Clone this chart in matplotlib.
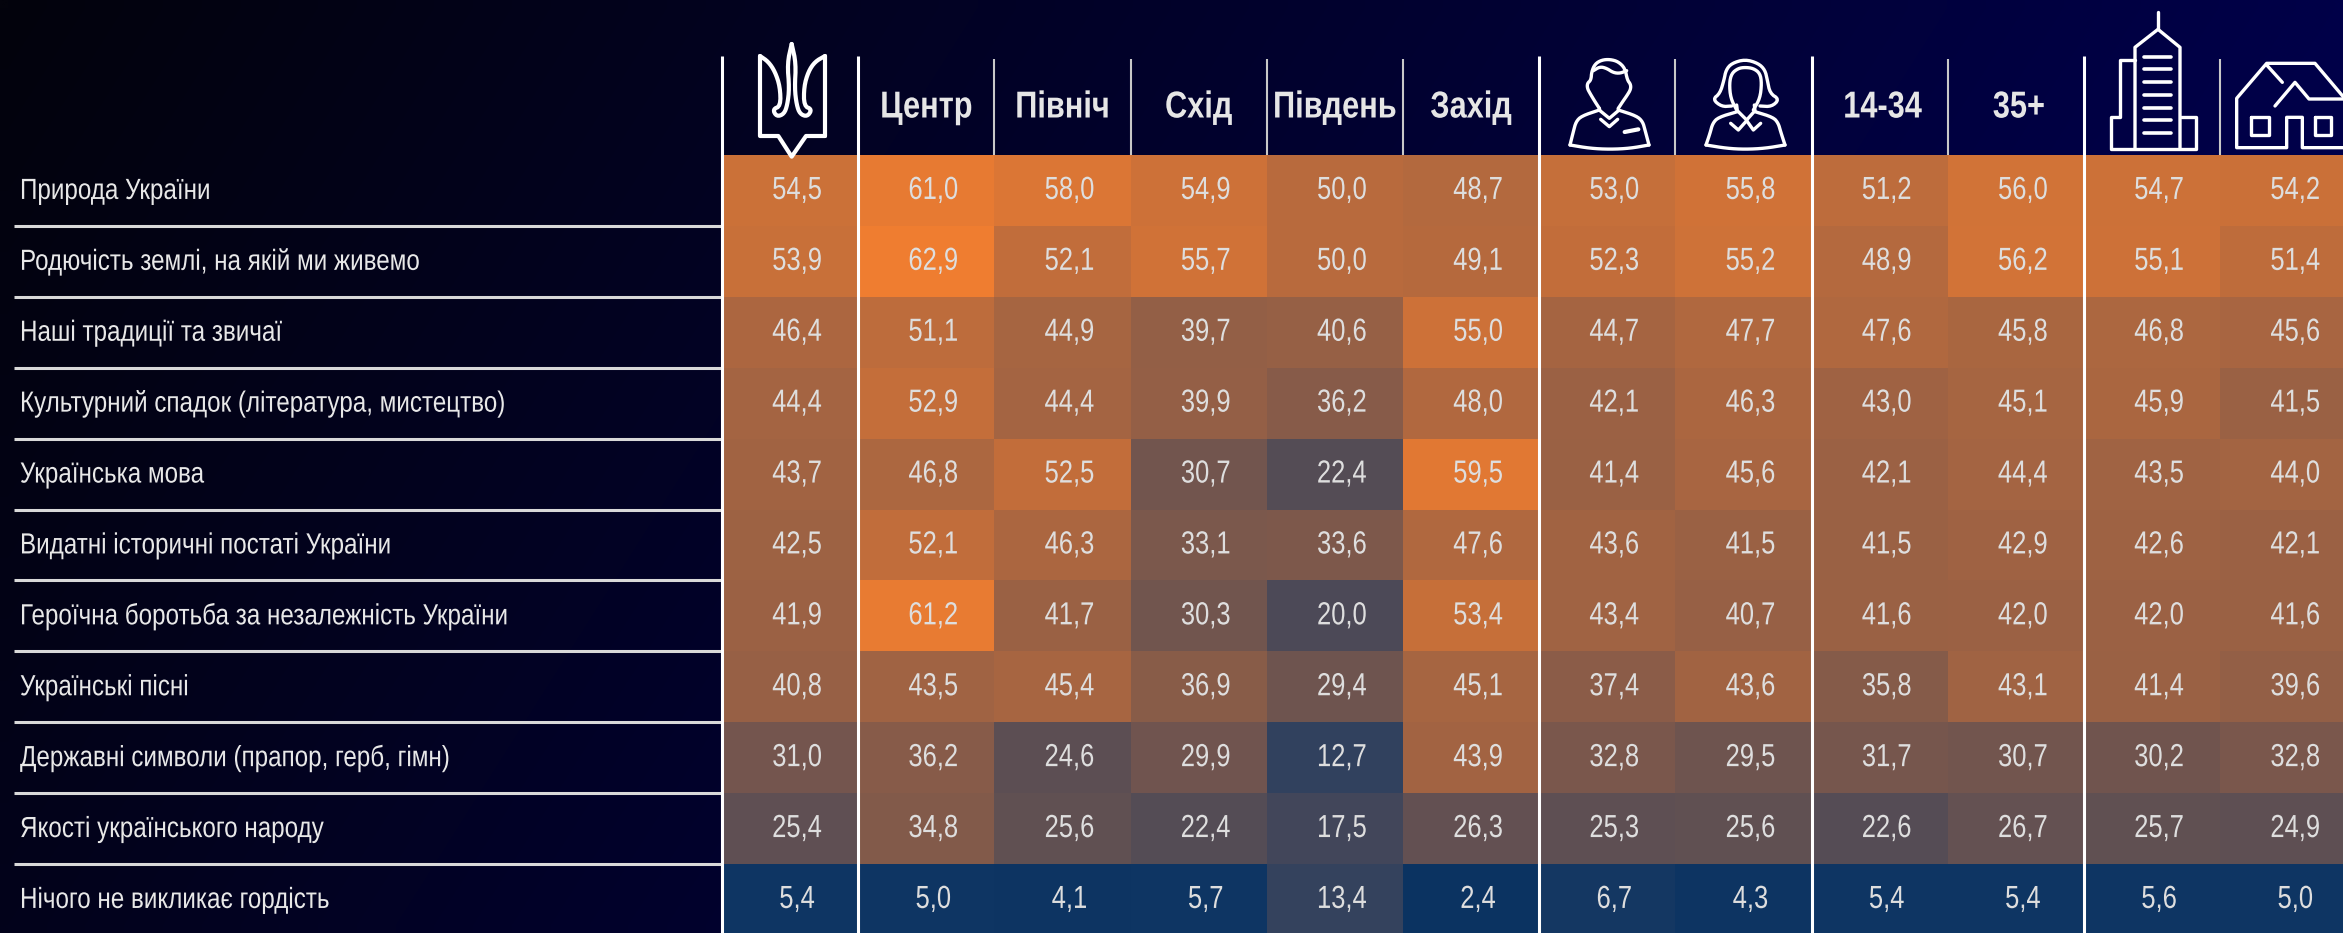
import matplotlib
matplotlib.use("Agg")
import numpy as np
import matplotlib.pyplot as plt
from matplotlib.colors import LinearSegmentedColormap, Normalize
from matplotlib.patheffects import AbstractPathEffect
from matplotlib.transforms import Affine2D

rows = ["Природа України", "Родючість землі, на якій ми живемо", "Наші традиції та звичаї",
        "Культурний спадок (література, мистецтво)", "Українська мова",
        "Видатні історичні постаті України", "Героїчна боротьба за незалежність України",
        "Українські пісні", "Державні символи (прапор, герб, гімн)",
        "Якості українського народу", "Нічого не викликає гордість"]

col_ukraine = [54.5, 53.9, 46.4, 44.4, 43.7, 42.5, 41.9, 40.8, 31.0, 25.4, 5.4]
col_center = [61.0, 62.9, 51.1, 52.9, 46.8, 52.1, 61.2, 43.5, 36.2, 34.8, 5.0]
col_north = [58.0, 52.1, 44.9, 44.4, 52.5, 46.3, 41.7, 45.4, 24.6, 25.6, 4.1]
col_east = [54.9, 55.7, 39.7, 39.9, 30.7, 33.1, 30.3, 36.9, 29.9, 22.4, 5.7]
col_south = [50.0, 50.0, 40.6, 36.2, 22.4, 33.6, 20.0, 29.4, 12.7, 17.5, 13.4]
col_west = [48.7, 49.1, 55.0, 48.0, 59.5, 47.6, 53.4, 45.1, 43.9, 26.3, 2.4]
col_men = [53.0, 52.3, 44.7, 42.1, 41.4, 43.6, 43.4, 37.4, 32.8, 25.3, 6.7]
col_women = [55.8, 55.2, 47.7, 46.3, 45.6, 41.5, 40.7, 43.6, 29.5, 25.6, 4.3]
col_young = [51.2, 48.9, 47.6, 43.0, 42.1, 41.5, 41.6, 35.8, 31.7, 22.6, 5.4]
col_old = [56.0, 56.2, 45.8, 45.1, 44.4, 42.9, 42.0, 43.1, 30.7, 26.7, 5.4]
col_city = [54.7, 55.1, 46.8, 45.9, 43.5, 42.6, 42.0, 41.4, 30.2, 25.7, 5.6]
col_village = [54.2, 51.4, 45.6, 41.5, 44.0, 42.1, 41.6, 39.6, 32.8, 24.9, 5.0]

values = np.array([col_ukraine, col_center, col_north, col_east, col_south, col_west,
                   col_men, col_women, col_young, col_old, col_city, col_village]).T
headers = ["", "Центр", "Північ", "Схід", "Південь", "Захід", "", "", "14-34", "35+", "", ""]


# no narrow font installed, so squeeze the glyphs sideways around an anchor
class Squeeze(AbstractPathEffect):
    def __init__(self, sx, cx):
        super().__init__()
        self.extra = Affine2D().translate(-cx, 0).scale(sx, 1).translate(cx, 0)

    def draw_path(self, renderer, gc, tpath, affine, rgbFace=None):
        renderer.draw_path(gc, tpath, affine + self.extra, rgbFace)


W, H = 2343, 933
plt.rcParams['font.family'] = ['Liberation Sans', 'DejaVu Sans']
fig = plt.figure(figsize=(W / 100, H / 100), dpi=100)
ax = fig.add_axes([0, 0, 1, 1])
ax.set_xlim(0, W)
ax.set_ylim(H, 0)
ax.axis('off')

# background, almost black top left, navy to the right
yy, xx = np.mgrid[0:1:60j, 0:1:150j]
t = xx * 0.8 + yy * 0.2
bg = np.dstack([3 * (1 - t), 3 * (1 - t), 12 + 75 * t]) / 255
ax.imshow(bg, extent=[0, W, H, 0], aspect='auto', zorder=0, interpolation='bilinear')

cmap = LinearSegmentedColormap.from_list("heat", [(0, "#0B3361"), (0.05, "#0E3563"), (0.15, "#2D405F"),
                                                  (0.8, "#BB6B3C"), (1, "#EF7D30")])
norm = Normalize(2.4, 62.9)
x0, cw = 722.0, 136.2
y0, rh = 155.0, 70.9

ax.pcolormesh(x0 + cw * np.arange(13), y0 + rh * np.arange(12), values, cmap=cmap, norm=norm, zorder=1)

for r, row in enumerate(values):
    ym = y0 + rh * (r + 0.5)
    ax.text(20, ym + 0.5, rows[r], color="#E8E8E8", fontsize=21, va='center', ha='left', zorder=3,
            path_effects=[Squeeze(0.83, 20)])
    for c, v in enumerate(row):
        xm = x0 + cw * (c + 0.5) + 7
        ax.text(xm, ym + 0.5, f"{v:.1f}".replace(".", ","), color="#DEDEDE", fontsize=23,
                va='center', ha='center', zorder=3, path_effects=[Squeeze(0.8, xm)])
    if r > 0:
        ax.plot([14, x0], [y0 + rh * r] * 2, color="#D9D9D9", lw=2.2, zorder=2, solid_capstyle='butt')

for c, h in enumerate(headers):
    xm = x0 + cw * (c + 0.5)
    if h in ("14-34", "35+"):
        xm += 3
    ax.text(xm, 107.5, h, color="#E6E6E6", fontsize=27, fontweight='bold', va='center', ha='center',
            zorder=3, path_effects=[Squeeze(0.82, xm)])

for c in range(12):
    major = c in (0, 1, 6, 8, 10)
    ax.plot([x0 + cw * c] * 2, [56 if major else 59, H if major else y0],
            color="white" if major else "#C8C8C8", lw=2.2 if major else 1.5, zorder=4, solid_capstyle='butt')


def smooth(pts, n=2):
    pts = np.array(pts, float)
    for _ in range(n):
        q = 0.75 * pts[:-1] + 0.25 * pts[1:]
        r = 0.25 * pts[:-1] + 0.75 * pts[1:]
        mid = np.empty((len(q) * 2, 2))
        mid[0::2] = q
        mid[1::2] = r
        pts = np.vstack([pts[0], mid, pts[-1]])
    return pts


def icon(pts, ox, oy, lw=2.4, curved=False):
    pts = smooth(pts) if curved else np.array(pts, float)
    ax.plot(ox + pts[:, 0] / 3, oy + pts[:, 1] / 3, color="white", lw=lw, zorder=5,
            solid_capstyle='round', solid_joinstyle='round')


# trident
icon([(285, 318), (228, 318), (185, 380), (145, 318), (90, 318), (90, 78)], 730, 30, lw=3)
icon([(285, 318), (285, 78)], 730, 30, lw=3)
icon([(90, 78), (115, 95), (135, 125), (150, 170), (152, 228), (128, 238), (140, 260), (162, 252),
      (172, 225), (178, 175), (172, 100), (185, 42)], 730, 30, lw=3, curved=True)
icon([(285, 78), (255, 95), (235, 125), (222, 170), (222, 228), (246, 238), (232, 260), (210, 252),
      (200, 225), (194, 175), (198, 100), (185, 42)], 730, 30, lw=3, curved=True)

# man
man = [[(178, 205), (165, 185), (150, 160), (142, 145), (142, 130), (153, 120), (155, 95), (165, 72), (185, 60),
        (210, 58), (235, 65), (255, 85), (262, 120), (272, 133), (272, 148), (262, 165), (248, 185), (235, 205)],
       [(160, 92), (180, 80), (200, 85), (220, 98), (240, 100), (260, 92)],
       [(90, 315), (150, 325), (210, 328), (270, 325), (327, 315)],
       [(178, 210), (125, 228), (108, 245), (100, 275), (90, 315)],
       [(327, 315), (315, 270), (308, 245), (290, 228), (235, 210)]]
for part in man:
    icon(part, 1540, 40, curved=True)
icon([(178, 205), (180, 212), (208, 235), (235, 212), (235, 205)], 1540, 40)
icon([(182, 238), (208, 260), (233, 238)], 1540, 40)
icon([(254, 276), (295, 268)], 1540, 40, lw=3)

# woman
woman = [[(575, 198), (545, 200), (518, 178), (540, 160), (552, 120), (558, 90), (575, 70), (615, 58), (655, 70),
          (675, 90), (682, 120), (690, 160), (718, 178), (695, 200), (660, 198)],
         [(590, 210), (572, 175), (568, 130), (575, 100), (595, 85), (615, 82), (640, 85), (660, 100), (665, 130),
          (660, 175), (640, 210)],
         [(592, 215), (535, 232), (518, 250), (510, 280), (498, 315)],
         [(498, 315), (560, 325), (615, 328), (675, 325), (735, 315)],
         [(735, 315), (722, 275), (715, 250), (700, 232), (645, 215)]]
for part in woman:
    icon(part, 1540, 40, curved=True)
icon([(590, 195), (592, 212), (620, 240), (645, 212), (643, 195)], 1540, 40)
icon([(572, 250), (595, 270), (620, 242), (640, 270), (662, 250)], 1540, 40)

# city
icon([(219, 35), (219, 88)], 2085, 0)
icon([(150, 445), (150, 142), (219, 88), (285, 142), (285, 445)], 2085, 0)
icon([(150, 180), (104, 180), (104, 350), (78, 350), (78, 448), (333, 448), (333, 350), (288, 350)], 2085, 0)
for fy in (170, 208, 246, 285, 323, 361, 400):
    icon([(178, fy), (258, fy)], 2085, 0, lw=2.6)

# village
icon([(800, 320), (690, 190), (545, 190), (455, 295), (455, 443), (605, 443), (605, 352), (652, 352), (652, 443),
      (800, 443)], 2085, 0)
icon([(545, 195), (592, 247)], 2085, 0)
icon([(570, 318), (630, 247), (672, 297), (800, 297)], 2085, 0)
icon([(497, 352), (553, 352), (553, 406), (497, 406), (497, 352)], 2085, 0)
icon([(690, 352), (738, 352), (738, 406), (690, 406), (690, 352)], 2085, 0)

fig.savefig("out.png", dpi=100)
